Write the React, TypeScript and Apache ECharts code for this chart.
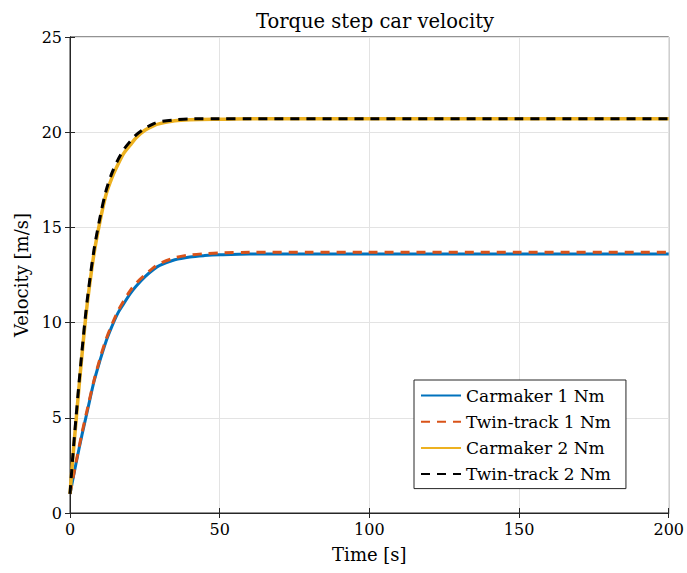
import React, { useEffect, useRef } from "react";
import * as echarts from "echarts";

const timeBlue = [0, 2, 4, 6, 8, 10, 12, 14, 16, 18, 20, 22, 25, 28, 30, 35, 40, 45, 50, 60, 80, 100, 150, 200];
const carmaker1 = [1.0, 2.6, 4.1, 5.5, 6.9, 8.0, 9.0, 9.8, 10.5, 11.0, 11.5, 11.9, 12.4, 12.8, 13.0, 13.3, 13.45, 13.52, 13.56, 13.6, 13.6, 13.6, 13.6, 13.6];
const twin1 = [1.0, 2.65, 4.2, 5.6, 6.95, 8.1, 9.1, 9.9, 10.6, 11.15, 11.65, 12.05, 12.5, 12.9, 13.1, 13.4, 13.55, 13.62, 13.66, 13.69, 13.7, 13.7, 13.7, 13.7];

const timeYellow = [0, 1, 2, 3, 4, 5, 6, 8, 10, 12, 14, 16, 18, 20, 22, 25, 28, 30, 35, 40, 50, 60, 100, 150, 200];
const carmaker2 = [1.0, 3.0, 4.8, 6.6, 8.3, 9.9, 11.3, 13.6, 15.3, 16.7, 17.6, 18.3, 18.9, 19.3, 19.7, 20.1, 20.35, 20.45, 20.6, 20.65, 20.68, 20.7, 20.7, 20.7, 20.7];
const twin2 = [1.0, 3.1, 5.0, 6.8, 8.5, 10.1, 11.5, 13.8, 15.5, 16.9, 17.85, 18.55, 19.1, 19.5, 19.85, 20.2, 20.45, 20.55, 20.65, 20.7, 20.7, 20.7, 20.7, 20.7, 20.7];

const names = ["Carmaker 1 Nm", "Twin-track 1 Nm", "Carmaker 2 Nm", "Twin-track 2 Nm"];

const zip = (t: number[], v: number[]) => t.map((x, i) => [x, v[i]]);

const FONT = "'DejaVu Serif', serif";

export default function App() {
  const ref = useRef<HTMLDivElement>(null);
  useEffect(() => {
    document.body.style.margin = "0";
    const chart = echarts.init(ref.current!, null, { renderer: "svg" });
    const axisColor = "#262626";
    const tick = { show: true, inside: true, length: 5, lineStyle: { color: axisColor } };
    chart.setOption({
      animation: false,
      backgroundColor: "#ffffff",
      title: {
        text: "Torque step car velocity",
        left: 370,
        textAlign: "center",
        top: 6,
        textStyle: { fontFamily: FONT, fontSize: 19.5, fontWeight: "normal", color: "#000" },
      },
      grid: { left: 70, top: 37, width: 602, height: 476, show: true, borderColor: axisColor, borderWidth: 1, backgroundColor: "#fff" },
      legend: {
        orient: "vertical",
        left: 414,
        top: 380,
        data: names,
        itemWidth: 40,
        itemHeight: 12,
        itemGap: 9.2,
        padding: [7, 15, 6, 6],
        borderColor: axisColor,
        borderWidth: 1,
        backgroundColor: "#fff",
        itemStyle: { opacity: 0 },
        textStyle: { fontFamily: FONT, fontSize: 17, color: "#000" },
      },
      xAxis: [
        {
          type: "value",
          min: 0,
          max: 200,
          interval: 50,
          name: "Time [s]",
          nameLocation: "middle",
          nameGap: 32,
          nameTextStyle: { fontFamily: FONT, fontSize: 18, color: "#000" },
          axisLine: { show: true, lineStyle: { color: axisColor } },
          axisTick: tick,
          axisLabel: { fontFamily: FONT, fontSize: 16, color: "#000", margin: 8 },
          splitLine: { show: true, lineStyle: { color: "#e3e3e3" } },
        },
        {
          type: "value",
          position: "top",
          min: 0,
          max: 200,
          interval: 50,
          axisLine: { show: true, lineStyle: { color: axisColor } },
          axisTick: tick,
          axisLabel: { show: false },
          splitLine: { show: false },
        },
      ],
      yAxis: [
        {
          type: "value",
          min: 0,
          max: 25,
          interval: 5,
          name: "Velocity [m/s]",
          nameLocation: "middle",
          nameGap: 31,
          nameTextStyle: { fontFamily: FONT, fontSize: 18, color: "#000" },
          axisLine: { show: true, lineStyle: { color: axisColor } },
          axisTick: tick,
          axisLabel: { fontFamily: FONT, fontSize: 16, color: "#000", margin: 8 },
          splitLine: { show: true, lineStyle: { color: "#e3e3e3" } },
        },
        {
          type: "value",
          position: "right",
          min: 0,
          max: 25,
          interval: 5,
          axisLine: { show: true, lineStyle: { color: axisColor } },
          axisTick: tick,
          axisLabel: { show: false },
          splitLine: { show: false },
        },
      ],
      series: [
        {
          name: names[0],
          type: "line",
          data: zip(timeBlue, carmaker1),
          smooth: 0.3,
          symbol: "none",
          color: "#0072BD",
          lineStyle: { width: 3, color: "#0072BD" },
        },
        {
          name: names[1],
          type: "line",
          data: zip(timeBlue, twin1),
          smooth: 0.3,
          symbol: "none",
          color: "#D95319",
          lineStyle: { width: 3, color: "#D95319", type: [9, 7] },
        },
        {
          name: names[2],
          type: "line",
          data: zip(timeYellow, carmaker2),
          smooth: 0.3,
          symbol: "none",
          color: "#EDB120",
          lineStyle: { width: 3.5, color: "#EDB120" },
        },
        {
          name: names[3],
          type: "line",
          data: zip(timeYellow, twin2),
          smooth: 0.3,
          symbol: "none",
          color: "#000000",
          lineStyle: { width: 3, color: "#000000", type: [9, 7] },
        },
      ],
    });
    return () => chart.dispose();
  }, []);
  return <div ref={ref} style={{ width: 687, height: 573 }} />;
}
